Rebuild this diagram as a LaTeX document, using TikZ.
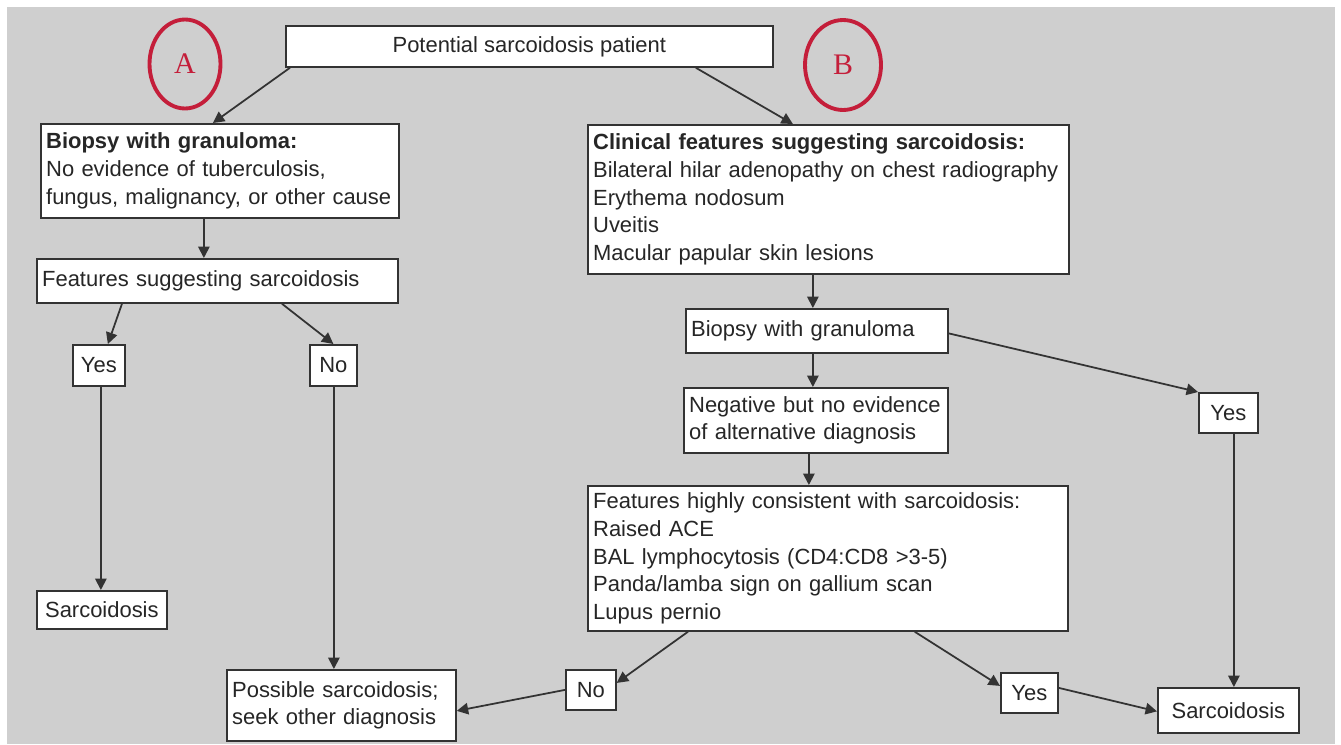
\documentclass[tikz,border=0pt]{standalone}
\usepackage{fontspec}
\setmainfont{Liberation Sans}
\newfontfamily\letterfont{Liberation Serif}
\usetikzlibrary{arrows.meta,shapes.geometric}
\definecolor{bggray}{HTML}{CFCFCF}
\definecolor{edgegray}{HTML}{333333}
\definecolor{markred}{HTML}{C41E3A}

\begin{document}
\begin{tikzpicture}[x=0.02cm,y=-0.02cm,->,>={Triangle[length=6.5pt,width=6.5pt]},semithick]
  \tikzstyle{every node}=[font=\fontsize{12.5}{15.8}\selectfont]
  \tikzstyle{every edge}=[draw=edgegray,line width=1pt]
  \tikzstyle{box}=[draw=edgegray,line width=1pt,fill=white,text=black!85,anchor=north west,inner xsep=3pt,inner ysep=2pt,align=left]
  \tikzstyle{tag}=[box,align=center,inner xsep=1pt]
  \tikzstyle{letter}=[ellipse,draw=markred,line width=2.2pt,text=markred,inner sep=0pt,font=\letterfont\fontsize{17}{17}\selectfont]

  % page and background
  \useasboundingbox (0,0) rectangle (1341,744);
  \fill[-,white] (0,0) rectangle (1341,744);
  \fill[-,bggray] (7,7) rectangle (1335,744);

  \node[tag,minimum width=9.74cm,minimum height=0.82cm] (top) at (285,25) {Potential sarcoidosis patient};
  \node[letter,minimum width=1.42cm,minimum height=1.78cm]  (circA) at (185,64) {A};
  \node[letter,minimum width=1.52cm,minimum height=1.8cm]  (circB) at (843,65) {B};

  % branch A
  \node[box,text width=6.95cm,minimum height=1.88cm] (A1) at (40,123)
       {\textbf{Biopsy with granuloma:}\\No evidence of tuberculosis,\\fungus, malignancy, or other cause};
  \node[box,text width=7.01cm,minimum height=0.88cm] (A2) at (36,258) {Features suggesting sarcoidosis};
  \node[tag,minimum width=1.04cm,minimum height=0.82cm] (YesA) at (72,344) {Yes};
  \node[tag,minimum width=0.94cm,minimum height=0.82cm] (NoA) at (309,344) {No};
  \node[tag,minimum width=2.6cm,minimum height=0.76cm] (SarcA) at (36,590) {Sarcoidosis};
  \node[box,text width=4.37cm,minimum height=1.42cm] (Poss) at (226,669)
       {Possible sarcoidosis;\\seek other diagnosis};

  % branch B
  \node[box,text width=9.41cm,minimum height=2.98cm] (B1) at (587,124)
       {\textbf{Clinical features suggesting sarcoidosis:}\\Bilateral hilar adenopathy on chest radiography\\Erythema nodosum\\Uveitis\\Macular papular skin lesions};
  \node[box,text width=5.03cm,minimum height=0.88cm] (B2) at (685,308) {Biopsy with granuloma};
  \node[box,text width=5.07cm,minimum height=1.3cm] (Neg) at (683,387)
       {Negative but no evidence\\of alternative diagnosis};
  \node[box,text width=9.39cm,minimum height=2.9cm] (Feat) at (587,485)
       {Features highly consistent with sarcoidosis:\\Raised ACE\\BAL lymphocytosis (CD4:CD8 >3-5)\\Panda/lamba sign on gallium scan\\Lupus pernio};
  \node[tag,minimum width=1.18cm,minimum height=0.8cm] (YesR) at (1198,392) {Yes};
  \node[tag,minimum width=1.0cm,minimum height=0.8cm] (NoB) at (565,669) {No};
  \node[tag,minimum width=1.14cm,minimum height=0.8cm] (YesB) at (1000,672) {Yes};
  \node[tag,minimum width=2.82cm,minimum height=0.9cm] (SarcR) at (1157,687) {Sarcoidosis};

  % start points of the straight-down connectors
  \coordinate (a1s) at ([xshift=-.32cm]A1.south);
  \coordinate (yas) at ([xshift=.04cm]YesA.south);
  \coordinate (nas) at ([xshift=.01cm]NoA.south);
  \coordinate (b1s) at ([xshift=-.31cm]B1.south);
  \coordinate (b2s) at ([xshift=-.08cm]B2.south);
  \coordinate (ngs) at ([xshift=-.14cm]Neg.south);
  \coordinate (yrs) at ([xshift=.11cm]YesR.south);

  \path ([xshift=.1cm]top.south west) edge ([xshift=-.14cm]A1.north)
        ([xshift=3.33cm]top.south)    edge ([xshift=-.71cm]B1.north)
        (a1s) edge (a1s |- A2.north)
        ([xshift=1.72cm]A2.south west) edge ([xshift=.18cm]YesA.north)
        ([xshift=4.92cm]A2.south west) edge (NoA.north)
        (yas) edge (yas |- SarcA.north)
        (nas) edge (nas |- Poss.north)
        (b1s) edge (b1s |- B2.north)
        (b2s) edge (b2s |- Neg.north)
        (ngs) edge (ngs |- Feat.north)
        ([yshift=-.05cm]B2.east)      edge (YesR.north west)
        (yrs) edge (yrs |- SarcR.north)
        ([xshift=2.02cm]Feat.south west) edge ([yshift=.14cm]NoB.east)
        (NoB.west)                    edge ([yshift=-.11cm]Poss.east)
        ([xshift=-3.08cm]Feat.south east) edge ([yshift=.14cm]YesB.west)
        ([yshift=.1cm]YesB.east)      edge ([yshift=-.02cm]SarcR.west);
\end{tikzpicture}
\end{document}
